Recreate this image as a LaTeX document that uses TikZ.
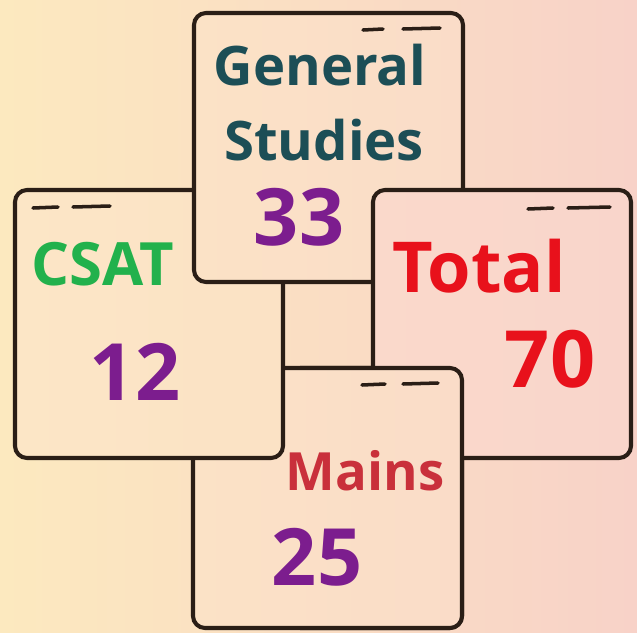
\documentclass[tikz,border=0pt]{standalone}
\usepackage{fontspec}
\setmainfont{Open Sans}

\definecolor{bgleft}{HTML}{FCE9BF}
\definecolor{bgright}{HTML}{F8D2C8}
\definecolor{cardedge}{HTML}{2A1E16}
\definecolor{csatleft}{HTML}{FCE6C6}
\definecolor{csatright}{HTML}{FBE2C5}
\definecolor{gsleft}{HTML}{FBE2C6}
\definecolor{gsright}{HTML}{FADCC8}
\definecolor{totalleft}{HTML}{FAD9CB}
\definecolor{totalright}{HTML}{F9D5CB}
\definecolor{gsteal}{HTML}{1C4E56}
\definecolor{csatgreen}{HTML}{22B14C}
\definecolor{totalred}{HTML}{E8111B}
\definecolor{mainsred}{HTML}{C9303B}
\definecolor{numpurple}{HTML}{7C1D8E}

\tikzset{
  cardline/.style={draw=cardedge, line width=2.3pt, rounded corners=0.24cm},
  tick/.style={cardedge, line width=2pt, line cap=round},
  label/.style={font=\bfseries\fontsize{31}{31}\selectfont, anchor=base, inner sep=0pt},
  number/.style={font=\bfseries\fontsize{45}{45}\selectfont, anchor=base, inner sep=0pt, text=numpurple}
}

\begin{document}
\begin{tikzpicture}[x=0.02cm, y=-0.02cm]

% background
\shade[left color=bgleft, right color=bgright] (0,0) rectangle (637,633);
\useasboundingbox (0,0) rectangle (637,633);

% Mains card (under CSAT)
\shade[cardline, left color=gsleft, right color=gsright] (193,368) rectangle (462,628);
\draw[tick] (362,385) -- (385,384);
\draw[tick] (403,384) -- (438,383);

% CSAT card (under General Studies)
\shade[cardline, left color=csatleft, right color=csatright] (15,190) rectangle (283,458);
\draw[tick] (33,208) -- (58,207);
\draw[tick] (73,207) -- (110,206);

% General Studies card (under Total)
\shade[cardline, left color=gsleft, right color=gsright] (194,13) rectangle (463,282);
\draw[tick] (363,30) -- (383,29);
\draw[tick] (403,29) -- (440,28);

% Total card
\shade[cardline, left color=totalleft, right color=totalright] (373,190) rectangle (631,458);
\draw[tick] (528,209) -- (553,208);
\draw[tick] (568,208) -- (610,207);

% Mains again, over Total
\begin{scope}
\clip (300,300) rectangle (637,633);
\shade[cardline, left color=gsleft, right color=gsright] (193,368) rectangle (462,628);
\draw[tick] (362,385) -- (385,384);
\draw[tick] (403,384) -- (438,383);
\end{scope}

% texts
\node (general) at (320,85) [label, text=gsteal] {General};
\node (studies) at (324,160) [label, text=gsteal] {Studies};
\node (gsnum) at (299,245) [number] {33};

\node (csat) at (103,285) [label, text=csatgreen, font=\bfseries\fontsize{34}{34}\selectfont] {CSAT};
\node (csatnum) at (135,400) [number] {12};

\node (total) at (479,292) [label, text=totalred, font=\bfseries\fontsize{40}{40}\selectfont] {Total};
\node (totalnum) at (550,387) [number, text=totalred] {70};

\node (mains) at (365,490) [label, text=mainsred, font=\bfseries\fontsize{30}{30}\selectfont] {Mains};
\node (mainsnum) at (317,585) [number] {25};

\end{tikzpicture}
\end{document}
